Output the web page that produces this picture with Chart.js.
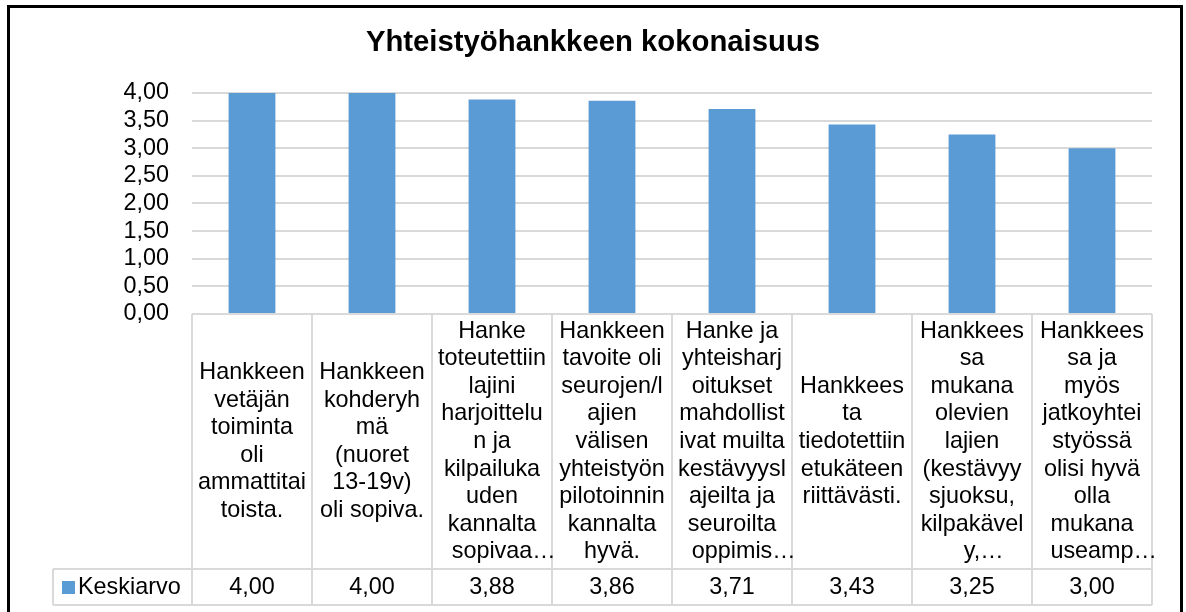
<!DOCTYPE html>
<html>
<head>
<meta charset="utf-8">
<script src="https://cdn.jsdelivr.net/npm/chart.js@4"></script>
<style>
  html, body { margin: 0; padding: 0; background: #ffffff; }
  #wrap { width: 1186px; height: 612px; position: relative; }
  canvas { display: block; }
</style>
</head>
<body>
<div id="wrap"><canvas id="c" width="1186" height="612"></canvas></div>
<script>
const chartTitle = "Yhteistyöhankkeen kokonaisuus";
const seriesName = "Keskiarvo";
const categories = [
  ["Hankkeen", "vetäjän", "toiminta", "oli", "ammattitai", "toista."],
  ["Hankkeen", "kohderyh", "mä", "(nuoret", "13-19v)", "oli sopiva."],
  ["Hanke", "toteutettiin", "lajini", "harjoittelu", "n ja", "kilpailuka", "uden", "kannalta", "sopivaa…"],
  ["Hankkeen", "tavoite oli", "seurojen/l", "ajien", "välisen", "yhteistyön", "pilotoinnin", "kannalta", "hyvä."],
  ["Hanke ja", "yhteisharj", "oitukset", "mahdollist", "ivat muilta", "kestävyysl", "ajeilta ja", "seuroilta", "oppimis…"],
  ["Hankkees", "ta", "tiedotettiin", "etukäteen", "riittävästi."],
  ["Hankkees", "sa", "mukana", "olevien", "lajien", "(kestävyy", "sjuoksu,", "kilpakävel", "y,…"],
  ["Hankkees", "sa ja", "myös", "jatkoyhtei", "styössä", "olisi hyvä", "olla", "mukana", "useamp…"]
];
const values = [4.00, 4.00, 3.88, 3.86, 3.71, 3.43, 3.25, 3.00];
const yTicks = [0, 0.5, 1, 1.5, 2, 2.5, 3, 3.5, 4];

const FONT = "'Liberation Sans', Arial, Helvetica, sans-serif";
const BAR_COLOR = "#5b9bd5";
const GRID = "#d9d9d9";
const fmt = v => Number(v).toFixed(2).replace('.', ',');

const tablePlugin = {
  id: 'dataTable',
  afterDraw(chart) {
    const ctx = chart.ctx;
    const xs = chart.scales.x;
    const area = chart.chartArea;
    const top = area.bottom;          // table top (axis line)
    const rowTop = 569;               // value row top
    const rowBottom = 605;            // value row bottom
    const legendLeft = 53;
    const n = categories.length;
    const half = (xs.getPixelForValue(1) - xs.getPixelForValue(0)) / 2;

    ctx.save();
    ctx.strokeStyle = GRID;
    ctx.lineWidth = 2;
    ctx.beginPath();
    ctx.moveTo(area.left, top); ctx.lineTo(area.right, top);
    ctx.moveTo(legendLeft, rowTop); ctx.lineTo(area.right, rowTop);
    ctx.moveTo(legendLeft, rowBottom); ctx.lineTo(area.right, rowBottom);
    ctx.moveTo(legendLeft, rowTop); ctx.lineTo(legendLeft, rowBottom);
    for (let i = 0; i <= n; i++) {
      const x = i < n ? xs.getPixelForValue(i) - half : xs.getPixelForValue(n - 1) + half;
      ctx.moveTo(x, top); ctx.lineTo(x, rowBottom);
    }
    ctx.stroke();

    // category labels
    ctx.fillStyle = "#000000";
    ctx.font = "23.4px " + FONT;
    ctx.textBaseline = "middle";
    ctx.textAlign = "left";
    const lh = 27.6;
    const midY = (top + rowTop) / 2;
    categories.forEach((lines, i) => {
      const cx = xs.getPixelForValue(i);
      const y0 = midY - (lines.length - 1) * lh / 2;
      lines.forEach((ln, j) => {
        const core = ln.endsWith("…") ? ln.slice(0, -1) : ln;
        const w = ctx.measureText(core).width;
        ctx.fillText(ln, cx - w / 2, y0 + j * lh);
      });
    });

    // value row
    const vy = (rowTop + rowBottom) / 2 + 1;
    ctx.textAlign = "center";
    values.forEach((v, i) => {
      ctx.fillText(fmt(v), xs.getPixelForValue(i), vy);
    });

    // legend cell
    ctx.fillStyle = BAR_COLOR;
    ctx.fillRect(62, vy - 7, 13, 13);
    ctx.fillStyle = "#000000";
    ctx.textAlign = "left";
    ctx.fillText(seriesName, 78, vy);

    // outer border
    ctx.strokeStyle = "#000000";
    ctx.lineWidth = 3;
    ctx.strokeRect(8.5, 6.5, 1173, 700);
    ctx.restore();
  }
};

new Chart(document.getElementById('c'), {
  type: 'bar',
  data: {
    labels: categories,
    datasets: [{
      label: seriesName,
      data: values,
      backgroundColor: BAR_COLOR,
      borderWidth: 0,
      categoryPercentage: 1.0,
      barPercentage: 0.39
    }]
  },
  options: {
    responsive: false,
    animation: false,
    devicePixelRatio: 1,
    layout: { padding: { left: 34, right: 34, top: 0, bottom: 0 } },
    plugins: {
      legend: { display: false },
      tooltip: { enabled: false },
      title: {
        display: true,
        text: chartTitle,
        color: "#000000",
        font: { family: FONT, size: 29.3, weight: 'bold', lineHeight: 1.2 },
        padding: { top: 25, bottom: 32.8 }
      }
    },
    scales: {
      x: {
        ticks: { display: false },
        grid: { display: false, drawTicks: false },
        border: { display: false },
        afterFit(scale) { scale.height = 298; }
      },
      y: {
        min: 0,
        max: 4,
        afterBuildTicks(scale) { scale.ticks = yTicks.map(v => ({ value: v })); },
        ticks: {
          autoSkip: false,
          padding: 23,
          color: "#000000",
          font: { family: FONT, size: 23.4 },
          callback: v => fmt(v)
        },
        grid: { color: GRID, lineWidth: 2, drawTicks: false },
        border: { display: false },
        afterFit(scale) { scale.width = 158; }
      }
    }
  },
  plugins: [tablePlugin]
});
</script>
</body>
</html>
